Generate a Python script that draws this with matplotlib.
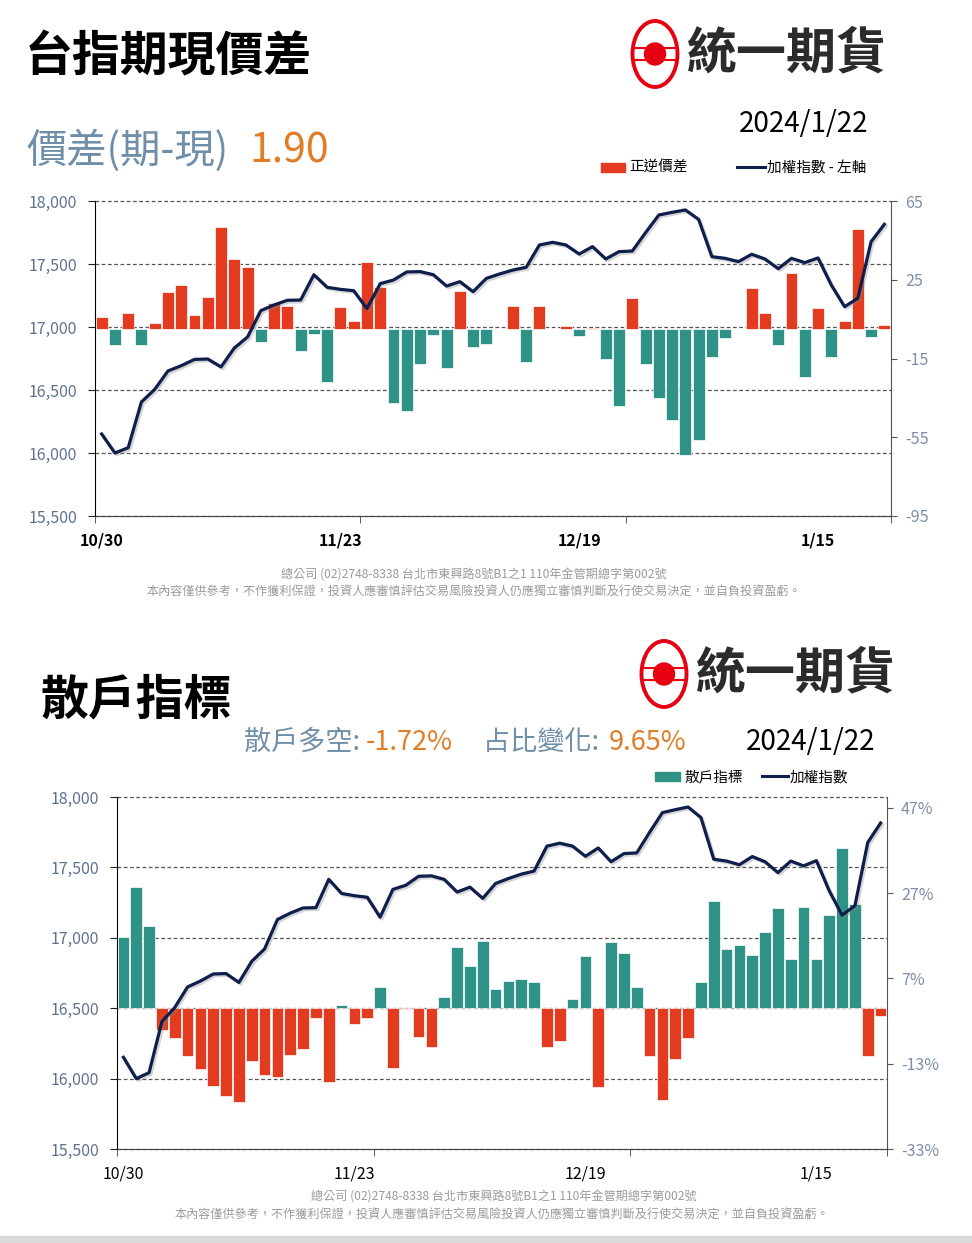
import numpy as np
import matplotlib
matplotlib.use("Agg")
import matplotlib.pyplot as plt
import matplotlib.patheffects as pe
from matplotlib.patches import Ellipse, Rectangle
from matplotlib.lines import Line2D
from matplotlib.transforms import blended_transform_factory

plt.rcParams['font.family'] = ['Noto Sans CJK TC', 'DejaVu Sans']

W, H = 972, 1243

dates = ["10/30", "10/31", "11/1", "11/2", "11/3", "11/6", "11/7", "11/8", "11/9", "11/10",
         "11/13", "11/14", "11/15", "11/16", "11/17", "11/20", "11/21", "11/22", "11/23", "11/24",
         "11/27", "11/28", "11/29", "11/30", "12/1", "12/4", "12/5", "12/6", "12/7", "12/8",
         "12/11", "12/12", "12/13", "12/14", "12/15", "12/18", "12/19", "12/20", "12/21", "12/22",
         "12/25", "12/26", "12/27", "12/28", "12/29", "1/2", "1/3", "1/4", "1/5", "1/8",
         "1/9", "1/10", "1/11", "1/12", "1/15", "1/16", "1/17", "1/18", "1/19", "1/22"]
label_idx = [0, 18, 36, 54]

# 加權指數
taiex = [16151, 16000, 16042, 16405, 16505, 16651, 16693, 16743, 16746, 16683,
         16833, 16921, 17130, 17175, 17212, 17214, 17415, 17315, 17299, 17288,
         17146, 17344, 17373, 17437, 17440, 17415, 17325, 17360, 17280, 17386,
         17421, 17452, 17474, 17651, 17672, 17651, 17579, 17638, 17540, 17598,
         17603, 17749, 17889, 17910, 17929, 17854, 17558, 17545, 17519, 17577,
         17540, 17463, 17545, 17511, 17548, 17333, 17161, 17228, 17677, 17815]

# 正逆價差
basis = [6, -8, 8, -8, 3, 19, 22.5, 7, 16, 52,
         35.4, 31.7, -6.6, 13.4, 11.7, -11.4, -2.5, -27, 11, 4,
         34.2, 21.4, -37.5, -41.7, -18, -3.2, -19.8, 19.2, -9.3, -7.8,
         0.2, 11.9, -16.8, 11.5, 0.1, 1.7, -3.4, 0.3, -15.4, -39.3,
         15.8, -17.6, -35.3, -46.3, -64.2, -56.6, -14, -4.4, 0.1, 20.8,
         8, -8.3, 28.3, -24.6, 10.7, -14.4, 3.9, 50.7, -4.2, 1.9]

# 散戶指標 (%)
retail = [16.8, 28.4, 19.2, -5.1, -7.1, -11.2, -14.3, -18.3, -20.5, -21.9,
          -12.3, -15.7, -16.1, -10.9, -9.6, -2.4, -17.2, 0.7, -3.8, -2.2,
          5.0, -14.1, -0.1, -6.7, -9.0, 2.7, 14.4, 9.9, 15.8, 4.5,
          6.4, 6.8, 6.2, -9.2, -7.8, 2.2, 12.3, -18.4, 15.4, 12.9,
          4.9, -11.3, -21.4, -11.8, -7.0, 6.2, 25.2, 13.9, 14.9, 12.5,
          17.8, 23.5, 11.6, 23.7, 11.5, 21.9, 37.5, 24.4, -11.1, -1.72]

left_ticks = [15500, 16000, 16500, 17000, 17500, 18000]
basis_ticks = [-95, -55, -15, 25, 65]
retail_ticks = [-33, -13, 7, 27, 47]

RED = "#E33B1F"
TEAL = "#2E9386"
NAVY = "#0F1E4C"
BLUEGRAY = "#6F8FA8"
ORANGE = "#E07D26"
TICKC = "#5E7290"
LOGORED = "#E60012"

fig = plt.figure(figsize=(W / 100, H / 100), dpi=100)


def panel(l, t, r, b, bars, pos_c, neg_c, rlim, rticks, rfmt, xweight):
    ax = fig.add_axes([l / W, 1 - b / H, (r - l) / W, (b - t) / H])
    axl = ax.twinx()
    ax.yaxis.tick_right()
    axl.yaxis.tick_left()
    x = np.arange(len(bars))
    cols = [pos_c if v >= 0 else neg_c for v in bars]
    ax.bar(x, bars, width=0.9, color=cols, edgecolor="white", linewidth=0.5, zorder=3)
    axl.plot(x, taiex, color=NAVY, lw=2.3, solid_joinstyle="round", zorder=5,
             path_effects=[pe.SimpleLineShadow(offset=(1.3, -1.3), shadow_color="#888", alpha=0.35),
                           pe.Normal()])
    tr = blended_transform_factory(ax.transAxes, axl.transData)
    for v in left_ticks:
        ax.plot([0, 1], [v, v], transform=tr, ls=(0, (3, 2)), color="#555", lw=0.9,
                zorder=1, clip_on=False)
    ax.set_xlim(-0.5, len(bars) - 0.5)
    ax.set_ylim(*rlim)
    axl.set_ylim(15500, 18000)
    ax.set_yticks(rticks)
    ax.set_yticklabels([rfmt.format(t) for t in rticks])
    axl.set_yticks(left_ticks)
    axl.set_yticklabels([f"{t:,}" for t in left_ticks])
    ax.set_xticks(label_idx)
    ax.set_xticklabels([dates[i] for i in label_idx], fontsize=11.5, fontweight=xweight,
                       color="black")
    ax.set_xticks([-0.5, 19.5, 39.5, 59.5], minor=True)
    ax.tick_params(axis="x", which="major", length=0, pad=12)
    ax.tick_params(axis="x", which="minor", length=5, color="#444")
    ax.tick_params(axis="y", length=4, color="#555", labelsize=11.5, labelcolor="#7F8EA8", pad=6)
    axl.tick_params(axis="y", length=5, color="#222", labelsize=11.5, labelcolor=TICKC, pad=8)
    ax.spines["top"].set_visible(False)
    for s in axl.spines.values():
        s.set_visible(False)
    ax.spines["left"].set_color("black")
    ax.spines["right"].set_color("#555")
    ax.spines["bottom"].set_color("#444")
    return ax, axl


panel(95, 201, 891, 516, basis, RED, TEAL, (-95, 65), basis_ticks, "{}", "bold")
panel(117, 797, 887, 1149, retail, TEAL, RED, (-33, 49.5), retail_ticks, "{}%", "normal")

ov = fig.add_axes([0, 0, 1, 1])
ov.set_xlim(0, W)
ov.set_ylim(H, 0)
ov.axis("off")


def logo(cx, cy, tx):
    ov.add_patch(Ellipse((cx, cy), 45, 66, fill=False, ec=LOGORED, lw=2.8))
    for dy in (-6, 6):
        ov.add_line(Line2D([cx - 21, cx + 21], [cy + dy, cy + dy], color=LOGORED, lw=1.5))
    ov.add_patch(Ellipse((cx, cy), 21, 22, color=LOGORED))
    ov.text(tx, cy, "統一期貨", fontsize=36, fontweight="bold", color="#2B2B2B", va="center")


# top section
ov.text(25, 57, "台指期現價差", fontsize=34.5, fontweight="bold", color="black", va="center")
logo(655, 54, 686)
ov.text(804, 124, "2024/1/22", fontsize=20, color="black", va="center", ha="center")
ov.text(26, 151, "價差(期-現)", fontsize=29, color=BLUEGRAY, va="center")
ov.text(249, 151, "1.90", fontsize=29.5, color=ORANGE, va="center")
ov.add_patch(Rectangle((601, 163), 24, 9, color=RED))
ov.text(629, 168, "正逆價差", fontsize=10.5, color="black", va="center")
ov.add_line(Line2D([737, 765], [167, 167], color=NAVY, lw=2.2))
ov.text(767, 168, "加權指數 - 左軸", fontsize=10.5, color="black", va="center")

note1 = "總公司 (02)2748-8338 台北市東興路8號B1之1 110年金管期總字第002號"
note2 = "本內容僅供參考，不作獲利保證，投資人應審慎評估交易風險投資人仍應獨立審慎判斷及行使交易決定，並自負投資盈虧。"
ov.text(474, 575, note1, fontsize=8.7, color="#9A9A9A", ha="center", va="center")
ov.text(474, 592, note2, fontsize=8.7, color="#9A9A9A", ha="center", va="center")

# bottom section
ov.text(40, 700, "散戶指標", fontsize=34.5, fontweight="bold", color="black", va="center")
logo(664, 674, 695)
ov.text(244, 742, "散戶多空: ", fontsize=19.5, color=BLUEGRAY, va="center")
ov.text(366, 742, "-1.72%", fontsize=19.5, color=ORANGE, va="center")
ov.text(483, 742, "占比變化: ", fontsize=19.5, color=BLUEGRAY, va="center")
ov.text(609, 742, "9.65%", fontsize=19.5, color=ORANGE, va="center")
ov.text(811, 742, "2024/1/22", fontsize=20, color="black", va="center", ha="center")
ov.add_patch(Rectangle((655, 772), 25, 9, color=TEAL))
ov.text(684, 777, "散戶指標", fontsize=10.5, color="black", va="center")
ov.add_line(Line2D([762, 788], [776, 776], color=NAVY, lw=2.2))
ov.text(790, 777, "加權指數", fontsize=10.5, color="black", va="center")

ov.text(504, 1197, note1, fontsize=8.7, color="#9A9A9A", ha="center", va="center")
ov.text(502, 1215, note2, fontsize=8.7, color="#9A9A9A", ha="center", va="center")
ov.add_patch(Rectangle((0, 1236), W, 7, color="#DADADA"))

fig.savefig("out.png", dpi=100)
